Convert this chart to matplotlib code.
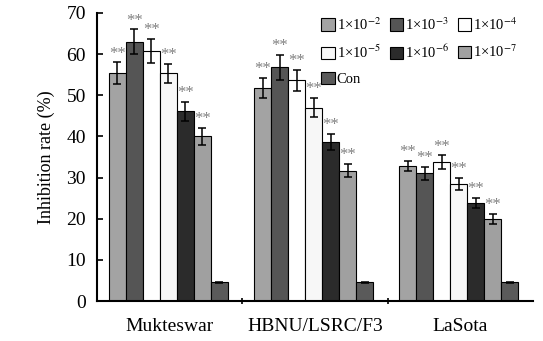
import numpy as np
import matplotlib
matplotlib.use("Agg")
import matplotlib.pyplot as plt

# 資料
strains = ["Mukteswar", "HBNU/LSRC/F3", "LaSota"]
series = ["1×10$^{-2}$", "1×10$^{-3}$", "1×10$^{-4}$", "1×10$^{-5}$",
          "1×10$^{-6}$", "1×10$^{-7}$", "Con"]
colors = ["#a3a3a3", "#555555", "#ffffff", "#f7f7f7", "#2b2b2b", "#a0a0a0", "#5a5a5a"]

mukteswar = [55.4, 63.0, 60.8, 55.3, 46.1, 40.0, 4.5]
mukteswar_err = [2.6, 3.0, 3.0, 2.3, 2.3, 2.0, 0.2]
hbnu = [51.8, 56.8, 53.6, 47.0, 38.7, 31.7, 4.5]
hbnu_err = [2.4, 3.0, 2.6, 2.4, 2.0, 1.6, 0.2]
lasota = [32.8, 31.0, 33.8, 28.5, 23.8, 20.0, 4.5]
lasota_err = [1.3, 1.6, 1.6, 1.5, 1.2, 1.2, 0.2]
significant = [True, True, True, True, True, True, False]

plt.rcParams['font.family'] = ['Liberation Serif', 'DejaVu Serif']
plt.rcParams['mathtext.fontset'] = 'stix'

values = np.array([mukteswar, hbnu, lasota])
errors = np.array([mukteswar_err, hbnu_err, lasota_err])

fig = plt.figure(figsize=(5.43, 3.41), dpi=100)
ax = fig.add_axes([0.1786, 0.1173, 0.803, 0.8446])

x = np.arange(len(strains))
width = 0.117
handles = []
for i, name in enumerate(series):
    pos = x - 0.01 + (i - 3) * width
    bars = ax.bar(pos, values[:, i], width, color=colors[i], edgecolor="black",
                  linewidth=0.8, label=name, zorder=2)
    ax.errorbar(pos, values[:, i], yerr=errors[:, i], fmt="none", ecolor="black",
                elinewidth=1.1, capsize=3, capthick=1.1, zorder=3)
    handles.append(bars)
    if significant[i]:
        for p, v, e in zip(pos, values[:, i], errors[:, i]):
            ax.text(p, v + e + 0.2, "**", ha="center", va="bottom",
                    fontsize=12, color="#808080")

ax.set_xlim(-0.5, 2.5)
ax.set_ylim(0, 70)
ax.set_yticks(range(0, 71, 10))
ax.set_xticks(x)
ax.set_xticklabels(strains, fontsize=14)
ax.set_xticks([0.5, 1.5], minor=True)
ax.tick_params(axis="x", which="major", length=0, pad=12)
ax.tick_params(axis="x", which="minor", direction="inout", length=5, width=1.2)
ax.tick_params(axis="y", direction="in", length=4, width=1.2, labelsize=14, pad=8)
for s in ["top", "right"]:
    ax.spines[s].set_visible(False)
ax.spines["left"].set_linewidth(1.5)
ax.spines["bottom"].set_linewidth(1.5)
ax.set_ylabel("Inhibition rate (%)", fontsize=13, labelpad=8)

order = [0, 3, 6, 1, 4, 2, 5]
ax.legend([handles[k] for k in order], [series[k] for k in order], ncol=3,
          loc="upper right", bbox_to_anchor=(0.985, 1.02), frameon=False,
          fontsize=10.5, handlelength=0.9, handleheight=0.9, handletextpad=0.15,
          columnspacing=0.6, labelspacing=0.75, borderaxespad=0.2)

plt.savefig("out.png", dpi=100)
plt.close()
